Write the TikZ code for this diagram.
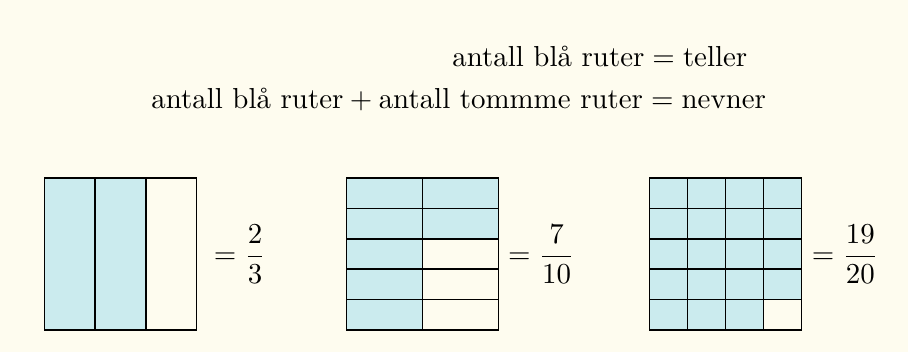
\documentclass[tikz,border=0pt]{standalone}
\definecolor{bgcream}{RGB}{254,252,239}
\definecolor{bluefill}{RGB}{203,235,238}
\begin{document}
\begin{tikzpicture}[x=0.02cm,y=-0.02cm,
  cell/.style={draw=black, line width=0.9pt},
  bluecell/.style={fill=bluefill},
  txt/.style={inner sep=0pt, scale=1.645, transform shape, anchor=base west}]
\fill[bgcream] (0,0) rectangle (908,352);
\useasboundingbox (0,0) rectangle (908,352);

% ---- box 1: 3 columns, 2 blue
\fill[bluecell] (44.5,178) rectangle (145.83,330);
\draw[cell] (44.5,178) rectangle (196.5,330);
\draw[cell] (95.17,178) -- (95.17,330) (145.83,178) -- (145.83,330);

% ---- box 2: 2 columns x 5 rows, 7 blue
\fill[bluecell] (346.5,178) rectangle (422.5,330);
\fill[bluecell] (422.5,178) rectangle (498.5,238.8);
\draw[cell] (346.5,178) rectangle (498.5,330);
\draw[cell] (422.5,178) -- (422.5,330);
\foreach \r in {208.4,238.8,269.2,299.6}
  \draw[cell] (346.5,\r) -- (498.5,\r);

% ---- box 3: 4 columns x 5 rows, 19 blue
\fill[bluecell] (649.5,178) rectangle (801.5,299.6);
\fill[bluecell] (649.5,299.6) rectangle (763.5,330);
\draw[cell] (649.5,178) rectangle (801.5,330);
\foreach \c in {687.5,725.5,763.5}
  \draw[cell] (\c,178) -- (\c,330);
\foreach \r in {208.4,238.8,269.2,299.6}
  \draw[cell] (649.5,\r) -- (801.5,\r);

% ---- texts
\node[txt] (l1) at (451.8,66) {$\mbox{antall blå ruter} = \mbox{teller}$};
\node[txt] (l2) at (150.8,108.2) {$\mbox{antall blå ruter} + \mbox{antall tommme ruter} = \mbox{nevner}$};

\node[txt] (f1) at (213.4,263.3) {$\displaystyle = \frac{2}{3}$};
\node[txt] (f2) at (507.6,263.3) {$\displaystyle = \frac{7}{10}$};
\node[txt] (f3) at (811.4,263.3) {$\displaystyle = \frac{19}{20}$};
\end{tikzpicture}
\end{document}
